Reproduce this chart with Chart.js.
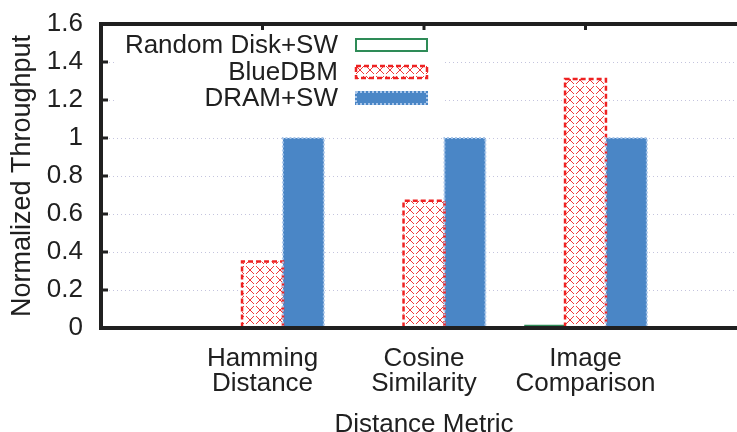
<!DOCTYPE html>
<html>
<head>
<meta charset="utf-8">
<script src="https://cdn.jsdelivr.net/npm/chart.js@4/dist/chart.umd.min.js"></script>
<style>
  html, body { margin: 0; padding: 0; background: #fff; overflow: hidden; }
  #wrap { width: 737px; height: 432px; overflow: hidden; position: relative; }
  canvas { display: block; }
</style>
</head>
<body>
<div id="wrap"><canvas id="c" width="765" height="432"></canvas></div>
<script>
// Category slots: an empty slot on each side keeps the groups spaced like the original plot
const categories = [[''], ['Hamming', 'Distance'], ['Cosine', 'Similarity'], ['Image', 'Comparison'], ['']];
const randomDiskSW = [null, 0.002, 0.006, 0.018, null];
const blueDBM      = [null, 0.35, 0.67, 1.31, null];
const dramSW       = [null, 1.0, 1.0, 1.0, null];
const yTicks = [0, 0.2, 0.4, 0.6, 0.8, 1, 1.2, 1.4, 1.6];
const seriesNames = ['Random Disk+SW', 'BlueDBM', 'DRAM+SW'];

const FONT = '"Liberation Sans", Arial, Helvetica, sans-serif';
const GREEN = '#2e8b57';
const RED = '#ee2222';
const BLUE = '#4a86c6';
const BLUE_EDGE = '#a9c6ea';
const INK = '#202020';

// Red cross-hatch fill on white
function makeHatch() {
  const t = document.createElement('canvas');
  t.width = 10; t.height = 10;
  const g = t.getContext('2d');
  g.fillStyle = '#fff';
  g.fillRect(0, 0, 10, 10);
  g.strokeStyle = 'rgba(238,34,34,0.9)';
  g.lineWidth = 1;
  g.beginPath();
  g.moveTo(0, 0); g.lineTo(4, 4);
  g.moveTo(6, 6); g.lineTo(10, 10);
  g.moveTo(10, 0); g.lineTo(6, 4);
  g.moveTo(4, 6); g.lineTo(0, 10);
  g.stroke();
  return g.createPattern(t, 'repeat');
}
const ctx0 = document.getElementById('c').getContext('2d');
const hatch = makeHatch();

// Dashed / dotted outlines for the filled bars (sides and top)
function outlineBar(ctx, left, right, top, bottom, color, width, dash) {
  ctx.save();
  ctx.strokeStyle = color;
  ctx.lineWidth = width;
  ctx.setLineDash(dash);
  ctx.beginPath();
  ctx.moveTo(left, bottom);
  ctx.lineTo(left, top);
  ctx.lineTo(right, top);
  ctx.lineTo(right, bottom);
  ctx.stroke();
  ctx.restore();
}

const barOutlines = {
  id: 'barOutlines',
  afterDatasetsDraw(chart) {
    const ctx = chart.ctx;
    const styles = {1: [RED, 2.5, [5, 3]], 2: [BLUE_EDGE, 2, [2, 2]]};
    Object.keys(styles).forEach(k => {
      const meta = chart.getDatasetMeta(+k);
      const [col, w, dash] = styles[k];
      meta.data.forEach((el, i) => {
        if (chart.data.datasets[k].data[i] == null) return;
        const p = el.getProps(['x', 'y', 'base', 'width'], true);
        outlineBar(ctx, p.x - p.width / 2, p.x + p.width / 2, p.y, p.base, col, w, dash);
      });
    });
  }
};

// Frame, inward ticks and key
const frameAndKey = {
  id: 'frameAndKey',
  afterDraw(chart) {
    const ctx = chart.ctx;
    const a = chart.chartArea;
    const ys = chart.scales.y, xs = chart.scales.x;
    ctx.save();
    // key box (white, hides the grid behind it)
    ctx.fillStyle = '#fff';
    ctx.fillRect(115, a.top + 8, 328, 80);

    // inward tick marks
    ctx.strokeStyle = INK;
    ctx.lineWidth = 3;
    ctx.beginPath();
    yTicks.forEach(v => {
      const py = ys.getPixelForValue(v);
      ctx.moveTo(a.left, py); ctx.lineTo(a.left + 7, py);
    });
    for (let i = 1; i < categories.length - 1; i++) {
      const px = xs.getPixelForValue(i);
      ctx.moveTo(px, a.top); ctx.lineTo(px, a.top + 6);
    }
    ctx.stroke();
    // border lines
    ctx.lineWidth = 4;
    ctx.beginPath();
    ctx.moveTo(a.left, a.bottom + 2); ctx.lineTo(a.left, a.top - 2);
    ctx.moveTo(a.left - 2, a.top); ctx.lineTo(chart.width, a.top);
    ctx.moveTo(a.left - 2, a.bottom); ctx.lineTo(chart.width, a.bottom);
    ctx.stroke();

    ctx.font = '26px ' + FONT;
    ctx.textAlign = 'right';
    ctx.textBaseline = 'middle';
    const rowY = [45, 72, 98];
    const sx0 = 355, sx1 = 428, sh = 14;
    seriesNames.forEach((name, i) => {
      ctx.fillStyle = INK;
      ctx.fillText(name, 338, rowY[i] + 1);
      const top = rowY[i] - sh / 2;
      if (i === 0) {
        ctx.fillStyle = '#fff';
        ctx.fillRect(sx0, top, sx1 - sx0, sh);
        ctx.strokeStyle = GREEN; ctx.lineWidth = 2; ctx.setLineDash([]);
        ctx.strokeRect(sx0 + 1, top + 1, sx1 - sx0 - 2, sh - 2);
      } else if (i === 1) {
        ctx.fillStyle = hatch;
        ctx.fillRect(sx0, top, sx1 - sx0, sh);
        ctx.strokeStyle = RED; ctx.lineWidth = 2.5; ctx.setLineDash([5, 3]);
        ctx.strokeRect(sx0 + 1, top + 1, sx1 - sx0 - 2, sh - 2);
      } else {
        ctx.fillStyle = BLUE;
        ctx.fillRect(sx0, top, sx1 - sx0, sh);
        ctx.strokeStyle = BLUE_EDGE; ctx.lineWidth = 2; ctx.setLineDash([2, 2]);
        ctx.strokeRect(sx0 + 1, top + 1, sx1 - sx0 - 2, sh - 2);
      }
      ctx.setLineDash([]);
    });
    ctx.restore();
  }
};

new Chart(ctx0, {
  type: 'bar',
  data: {
    labels: categories,
    datasets: [
      { label: seriesNames[0], data: randomDiskSW, backgroundColor: '#fff', borderColor: GREEN, borderWidth: 2 },
      { label: seriesNames[1], data: blueDBM, backgroundColor: hatch, borderWidth: 0 },
      { label: seriesNames[2], data: dramSW, backgroundColor: BLUE, borderWidth: 0 }
    ]
  },
  options: {
    responsive: false,
    animation: false,
    devicePixelRatio: 1,
    categoryPercentage: 0.76,
    barPercentage: 1.0,
    layout: { padding: { top: 24, right: 0, left: 0, bottom: 0 } },
    plugins: { legend: { display: false }, tooltip: { enabled: false } },
    scales: {
      x: {
        offset: false,
        grid: { display: false, drawTicks: false },
        border: { display: false },
        ticks: {
          autoSkip: false, maxRotation: 0, minRotation: 0, padding: 18,
          color: INK, font: { family: FONT, size: 26, lineHeight: '25px' }
        },
        title: {
          display: true, text: 'Distance Metric', color: INK,
          font: { family: FONT, size: 26, lineHeight: '25px' }, padding: { top: -5, bottom: -5 }
        },
        afterFit(s) { s.height = 104; }
      },
      y: {
        min: 0, max: 1.6,
        afterBuildTicks(s) { s.ticks = yTicks.map(v => ({ value: v })); },
        grid: { color: '#c4c4de', lineWidth: 1, drawTicks: true, tickLength: 18, tickColor: 'rgba(0,0,0,0)' },
        border: { display: false, dash: [1, 3] },
        ticks: {
          padding: 0, color: INK,
          font: { family: FONT, size: 26 },
          callback: v => String(+v.toFixed(1))
        },
        title: {
          display: true, text: 'Normalized Throughput', color: INK,
          font: { family: FONT, size: 27, lineHeight: 1.0 }, padding: { top: 9, bottom: 0 }
        },
        afterFit(s) { s.width = 101; }
      }
    }
  },
  plugins: [barOutlines, frameAndKey]
});
</script>
</body>
</html>
